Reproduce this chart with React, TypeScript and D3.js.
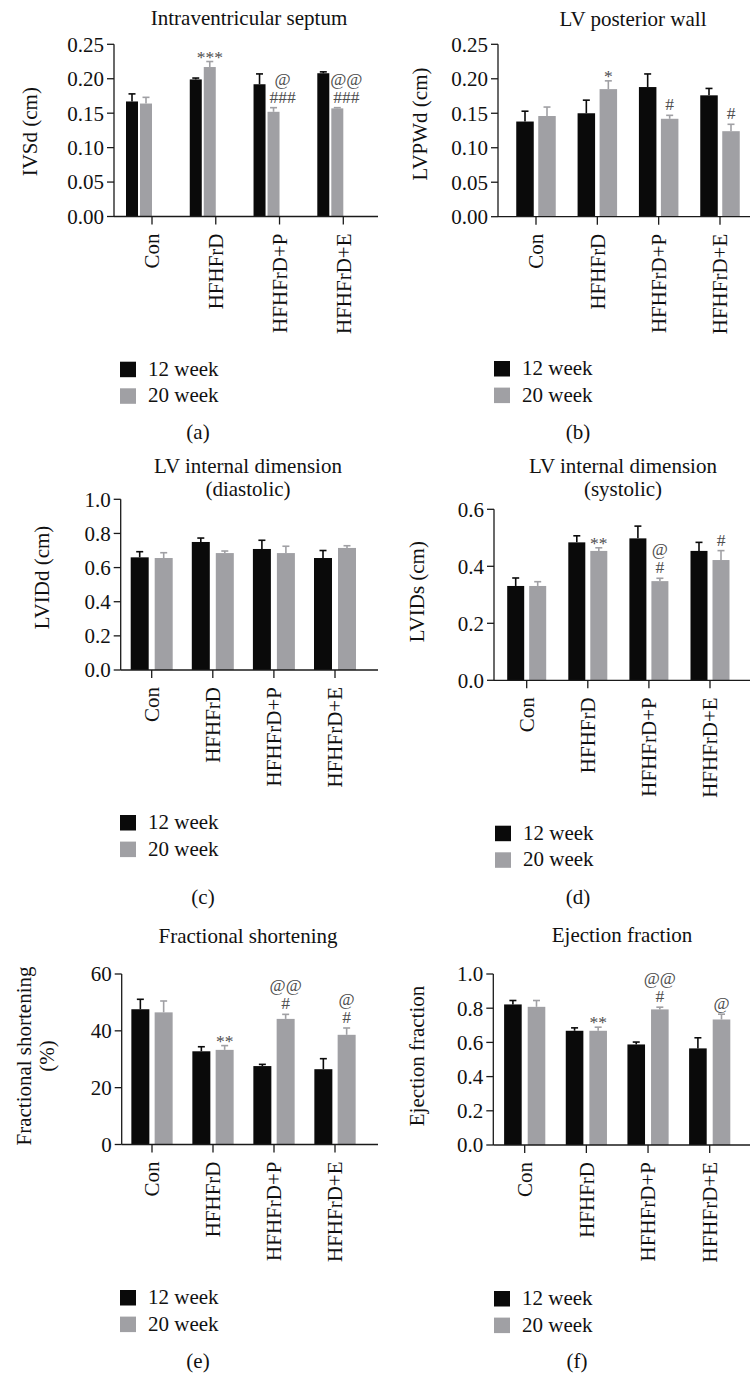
import React from "react";
import * as d3 from "d3";

// groups and series
const groups = ["Con", "HFHFrD", "HFHFrD+P", "HFHFrD+E"];
const seriesLabels = ["12 week", "20 week"];

// (a) IVSd (cm)
const ivsd12 = [0.167, 0.199, 0.192, 0.208];
const ivsd12Sem = [0.011, 0.002, 0.015, 0.002];
const ivsd20 = [0.164, 0.217, 0.152, 0.157];
const ivsd20Sem = [0.009, 0.008, 0.006, 0.001];
const ivsdNotes = [[], ["***"], ["@", "###"], ["@@", "###"]];

// (b) LVPWd (cm)
const lvpwd12 = [0.138, 0.15, 0.188, 0.176];
const lvpwd12Sem = [0.015, 0.019, 0.019, 0.01];
const lvpwd20 = [0.146, 0.185, 0.142, 0.124];
const lvpwd20Sem = [0.013, 0.012, 0.005, 0.01];
const lvpwdNotes = [[], ["*"], ["#"], ["#"]];

// (c) LVIDd (cm)
const lvidd12 = [0.66, 0.75, 0.709, 0.656];
const lvidd12Sem = [0.033, 0.023, 0.051, 0.044];
const lvidd20 = [0.656, 0.685, 0.685, 0.715];
const lvidd20Sem = [0.031, 0.012, 0.04, 0.013];
const lviddNotes = [[], [], [], []];

// (d) LVIDs (cm)
const lvids12 = [0.331, 0.484, 0.498, 0.454];
const lvids12Sem = [0.028, 0.023, 0.043, 0.03];
const lvids20 = [0.331, 0.454, 0.348, 0.422];
const lvids20Sem = [0.015, 0.011, 0.01, 0.033];
const lvidsNotes = [[], ["**"], ["@", "#"], ["#"]];

// (e) Fractional shortening (%)
const fs12 = [47.6, 32.8, 27.6, 26.5];
const fs12Sem = [3.5, 1.6, 0.6, 3.7];
const fs20 = [46.5, 33.3, 44.2, 38.6];
const fs20Sem = [4.0, 1.5, 1.6, 2.4];
const fsNotes = [[], ["**"], ["@@", "#"], ["@", "#"]];

// (f) Ejection fraction
const ef12 = [0.822, 0.668, 0.588, 0.565];
const ef12Sem = [0.023, 0.017, 0.014, 0.062];
const ef20 = [0.808, 0.668, 0.793, 0.734];
const ef20Sem = [0.037, 0.021, 0.013, 0.031];
const efNotes = [[], ["**"], ["@@", "#"], ["@"]];

const FONT = "'Liberation Serif', 'Times New Roman', serif";
const BLACK = "#0a0a0a";
const GREY = "#a0a0a4";
const NOTE = "#4d4d4d";
const FS = 21;

const panels = [
  {
    letter: "(a)", title: ["Intraventricular septum"], yLabel: ["IVSd (cm)"],
    means: [ivsd12, ivsd20], sems: [ivsd12Sem, ivsd20Sem], notes: ivsdNotes,
    max: 0.25, step: 0.05, fmt: ".2f",
    L: { axisX: 114, axisEnd: 378, top: 44.3, bottom: 216.5, tick0: 152, tick1: 343.3, barW: 12, gap: 2, shift: -13,
      noteDx: [0, 0, 9, 9],
      titleX: 249, titleY: 25, yLabelX: [30], yLabelY: 131.7, legX: 120, legY: 361.7, letterX: 198, letterY: 439 },
  },
  {
    letter: "(b)", title: ["LV posterior wall"], yLabel: ["LVPWd (cm)"],
    means: [lvpwd12, lvpwd20], sems: [lvpwd12Sem, lvpwd20Sem], notes: lvpwdNotes,
    max: 0.25, step: 0.05, fmt: ".2f",
    L: { axisX: 498, axisEnd: 750, top: 44.3, bottom: 216.7, tick0: 536, tick1: 720, barW: 17.5, gap: 4.5, shift: 0,
      noteDx: [0, 0, 0, 0],
      titleX: 633, titleY: 26, yLabelX: [420], yLabelY: 124, legX: 494, legY: 361, letterX: 578, letterY: 439 },
  },
  {
    letter: "(c)", title: ["LV internal dimension", "(diastolic)"], yLabel: ["LVIDd (cm)"],
    means: [lvidd12, lvidd20], sems: [lvidd12Sem, lvidd20Sem], notes: lviddNotes,
    max: 1.0, step: 0.2, fmt: ".1f",
    L: { axisX: 120.7, axisEnd: 378, top: 499.3, bottom: 670, tick0: 151.7, tick1: 335, barW: 18, gap: 6, shift: 0,
      noteDx: [0, 0, 0, 0],
      titleX: 248, titleY: 473, yLabelX: [41.7], yLabelY: 577.5, legX: 120, legY: 815, letterX: 203, letterY: 904 },
  },
  {
    letter: "(d)", title: ["LV internal dimension", "(systolic)"], yLabel: ["LVIDs (cm)"],
    means: [lvids12, lvids20], sems: [lvids12Sem, lvids20Sem], notes: lvidsNotes,
    max: 0.6, step: 0.2, fmt: ".1f",
    L: { axisX: 494, axisEnd: 750, top: 509.3, bottom: 680.3, tick0: 526.7, tick1: 710, barW: 17, gap: 5, shift: 0,
      noteDx: [0, 0, 0, 0],
      titleX: 623, titleY: 473, yLabelX: [416.7], yLabelY: 591.7, legX: 495, legY: 825.7, letterX: 578, letterY: 904 },
  },
  {
    letter: "(e)", title: ["Fractional shortening"], yLabel: ["Fractional shortening", "(%)"],
    means: [fs12, fs20], sems: [fs12Sem, fs20Sem], notes: fsNotes,
    max: 60, step: 20, fmt: "d",
    L: { axisX: 121.7, axisEnd: 378, top: 974, bottom: 1144.5, tick0: 152, tick1: 335, barW: 18, gap: 5.3, shift: 0,
      noteDx: [0, 0, 0, 0],
      titleX: 248, titleY: 943, yLabelX: [24, 47], yLabelY: 1056, legX: 120, legY: 1290, letterX: 198, letterY: 1368 },
  },
  {
    letter: "(f)", title: ["Ejection fraction"], yLabel: ["Ejection fraction"],
    means: [ef12, ef20], sems: [ef12Sem, ef20Sem], notes: efNotes,
    max: 1.0, step: 0.2, fmt: ".1f",
    L: { axisX: 493.3, axisEnd: 750, top: 974, bottom: 1145, tick0: 524.7, tick1: 709.7, barW: 17.6, gap: 6, shift: 0,
      noteDx: [0, 0, 0, 0],
      titleX: 622, titleY: 942, yLabelX: [416.7], yLabelY: 1056, legX: 494, legY: 1291, letterX: 577, letterY: 1368 },
  },
];

function Panel({ p }: { p: any }) {
  const L = p.L;
  const y = d3.scaleLinear().domain([0, p.max]).range([L.bottom, L.top]);
  const x = d3.scalePoint<string>().domain(groups).range([L.tick0, L.tick1]);
  const ticks = d3.range(0, p.max + p.step / 2, p.step);
  const fmt = d3.format(p.fmt);
  const colors = [BLACK, GREY];

  return (
    <g>
      {p.title.map((t: string, i: number) => (
        <text key={"t" + i} x={L.titleX} y={L.titleY + i * 23} textAnchor="middle" fontSize={FS}>{t}</text>
      ))}
      {p.yLabel.map((t: string, i: number) => (
        <text key={"yl" + i} transform={`translate(${L.yLabelX[i]},${L.yLabelY}) rotate(-90)`}
          textAnchor="middle" dy="0.35em" fontSize={FS}>{t}</text>
      ))}

      {[0, 1].map((s) =>
        groups.map((g, i) => {
          const bx = (x(g) as number) + L.shift + (s === 0 ? -L.gap / 2 - L.barW : L.gap / 2);
          const top = y(p.means[s][i]);
          const errY = y(p.means[s][i] + p.sems[s][i]);
          const cx = bx + L.barW / 2;
          return (
            <g key={`b${s}-${i}`}>
              <line x1={cx} x2={cx} y1={top} y2={errY} stroke={colors[s]} strokeWidth={1.6} />
              <line x1={cx - 3.5} x2={cx + 3.5} y1={errY} y2={errY} stroke={colors[s]} strokeWidth={1.6} />
              <rect x={bx} y={top} width={L.barW} height={L.bottom - top} fill={colors[s]} />
            </g>
          );
        })
      )}

      {groups.map((g, i) => {
        const lines: string[] = p.notes[i];
        const bx = (x(g) as number) + L.shift + L.gap / 2;
        const cx = bx + L.barW / 2 + L.noteDx[i];
        const errY = y(p.means[1][i] + p.sems[1][i]);
        return lines
          .slice()
          .reverse()
          .map((t, k) => {
            const base = t.startsWith("*") ? errY + 1 : errY - 5 - k * 18;
            return (
              <text key={`n${i}-${k}`} x={cx} y={base} textAnchor="middle" fontSize={17.5} fill={NOTE}>{t}</text>
            );
          });
      })}

      {/* axes */}
      <line x1={L.axisX} x2={L.axisX} y1={L.top} y2={L.bottom} stroke="#1a1a1a" strokeWidth={1.3} />
      <line x1={L.axisX} x2={L.axisEnd} y1={L.bottom} y2={L.bottom} stroke="#1a1a1a" strokeWidth={1.3} />
      {ticks.map((t) => (
        <g key={"yt" + t}>
          <line x1={L.axisX - 7} x2={L.axisX} y1={y(t)} y2={y(t)} stroke="#1a1a1a" strokeWidth={1.3} />
          <text x={L.axisX - 10} y={y(t)} dy="0.35em" textAnchor="end" fontSize={FS}>{fmt(t)}</text>
        </g>
      ))}
      {groups.map((g) => (
        <g key={"xt" + g}>
          <line x1={x(g)} x2={x(g)} y1={L.bottom} y2={L.bottom + 8} stroke="#1a1a1a" strokeWidth={1.3} />
          <text transform={`translate(${x(g)},${L.bottom + 17}) rotate(-90)`} dy="0.35em" textAnchor="end" fontSize={FS}>{g}</text>
        </g>
      ))}

      {/* legend */}
      {seriesLabels.map((s, i) => (
        <g key={"lg" + i}>
          <rect x={L.legX} y={L.legY + i * 26.6} width={16} height={15.5} fill={colors[i]} />
          <text x={L.legX + 28} y={L.legY + i * 26.6 + 14} fontSize={FS}>{s}</text>
        </g>
      ))}
      <text x={L.letterX} y={L.letterY} textAnchor="middle" fontSize={FS}>{p.letter}</text>
    </g>
  );
}

export default function App() {
  return (
    <svg width={751} height={1376} style={{ position: "absolute", left: 0, top: 0, background: "#fff" }}
      fontFamily={FONT} fill="#111">
      {panels.map((p) => (
        <Panel key={p.letter} p={p} />
      ))}
    </svg>
  );
}
